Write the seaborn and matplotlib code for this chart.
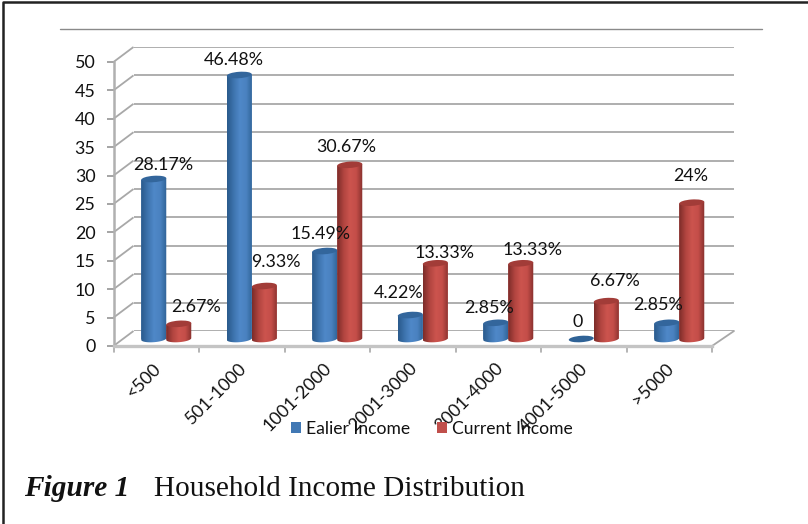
import numpy as np
import pandas as pd
import matplotlib
matplotlib.use("Agg")
import matplotlib.pyplot as plt
from matplotlib.patches import Ellipse, PathPatch
from matplotlib.path import Path
from matplotlib.transforms import IdentityTransform
from matplotlib.colors import LinearSegmentedColormap
import seaborn as sns

categories = ["<500", "501-1000", "1001-2000", "2001-3000", "3001-4000", "4001-5000", ">5000"]
earlier_income = [28.17, 46.48, 15.49, 4.22, 2.85, 0, 2.85]
current_income = [2.67, 9.33, 30.67, 13.33, 13.33, 6.67, 24]
earlier_labels = ["28.17%", "46.48%", "15.49%", "4.22%", "2.85%", "0", "2.85%"]
current_labels = ["2.67%", "9.33%", "30.67%", "13.33%", "13.33%", "6.67%", "24%"]
series_names = ["Ealier Income", "Current Income"]
y_ticks = list(range(0, 55, 5))

# label nudges in pixels from the top of each bar
earlier_offsets = [(9, 14), (-5, 15), (-4, 17), (-12, 22), (-7, 15), (-4, 17), (-9, 18)]
current_offsets = [(17, 17), (12, 24), (-4, 17.5), (9, 10), (12, 13), (9, 20), (-1, 27)]

W, H = 808, 524
sns.set_theme(style="white")
plt.rcParams["font.family"] = ["Lato", "DejaVu Sans"]
plt.rcParams["text.color"] = "#111111"
fig = plt.figure(figsize=(W / 100, H / 100), dpi=100, facecolor="white")


def px_axes(x0, y_top, x1, y_bottom, z):
    a = fig.add_axes([x0 / W, 1 - y_bottom / H, (x1 - x0) / W, (y_bottom - y_top) / H])
    a.set_zorder(z)
    a.patch.set_visible(False)
    return a


FX0, FX1, FY0, FY1 = 113.5, 712, 346, 62
GRID = "#a8a8a8"
FS = 12.9

# back wall
back = px_axes(FX0 + 20, FY1 - 15, FX1 + 22, FY0 - 15, 1)
back.set_xlim(0, 1)
back.set_ylim(0, 50)
back.set_xticks([])
back.set_yticks(y_ticks)
back.set_yticklabels([])
back.tick_params(left=False)
back.grid(axis="y", color=GRID, lw=1.3)
back.set_axisbelow(True)
sns.despine(ax=back, left=True, bottom=True)

# front axes (scale, ticks, floor edge)
front = px_axes(FX0, FY1, FX1, FY0, 2)
front.set_xlim(-0.5, 6.5)
front.set_ylim(0, 50)
front.set_yticks(y_ticks)
front.set_yticklabels([str(t) for t in y_ticks], color="#111111")
front.set_xticks(np.arange(len(categories)))
front.set_xticklabels([])
for s in ("top", "right"):
    front.spines[s].set_visible(False)
front.spines["left"].set_color("#b0b0b0")
front.spines["left"].set_linewidth(1.8)
front.spines["bottom"].set_color("#c4c4c4")
front.spines["bottom"].set_linewidth(2.4)
front.tick_params(axis="y", length=5, width=1.1, color="#8c8c8c", labelsize=FS, pad=8, left=True)
front.tick_params(axis="x", bottom=False)
ux = (FX1 - FX0) / 7
uy = (FY0 - FY1) / 50
for t in y_ticks:
    front.plot([-0.5, -0.5 + 20 / ux], [t, t + 15 / uy], color=GRID, lw=1.3, clip_on=False,
               solid_capstyle="butt")
front.plot([6.5, 6.5 + 22 / ux], [0, 15 / uy], color=GRID, lw=1.3, clip_on=False)
for k in range(8):
    front.plot([k - 0.5, k - 0.5], [0, -6 / uy], color="#a8a8a8", lw=1.2, clip_on=False)
for i, c in enumerate(categories):
    front.annotate(c, xy=(i, 0), xytext=(2, -20), textcoords="offset pixels", rotation=45,
                   rotation_mode="anchor", ha="right", va="center", fontsize=FS)

# bars
ax = px_axes(FX0 + 10, FY1 - 7, FX1 + 10, FY0 - 7, 3)
df = pd.DataFrame({
    "category": categories * 2,
    "value": earlier_income + current_income,
    "series": [series_names[0]] * 7 + [series_names[1]] * 7,
})
sns.barplot(data=df, x="category", y="value", hue="series", order=categories,
            hue_order=series_names, palette=["#4178b4", "#c04f4b"], width=0.585, gap=0,
            dodge=True, saturation=1, ax=ax, linewidth=0, zorder=3)
ax.set_xlim(-0.5, 6.5)
ax.set_ylim(0, 50)
ax.set_axis_off()

styles = [
    dict(cmap=["#2a5a8c", "#3d73ad", "#4f88c8", "#4a82c0", "#2f6296"], top="#33669c", flat="#2f6296"),
    dict(cmap=["#7c2c29", "#b0443f", "#cc544e", "#c44e49", "#86302d"], top="#a23c38", flat="#8c3431"),
]
RY, TILT = 3.2, np.tan(np.radians(4))
n = 0
for cont, vals in zip(ax.containers[:2], (earlier_income, current_income)):
    st = styles[n]
    cm = LinearSegmentedColormap.from_list(f"c{n}", st["cmap"])
    labels = (earlier_labels, current_labels)[n]
    offs = (earlier_offsets, current_offsets)[n]
    for j, (bar, v) in enumerate(zip(cont.patches, vals)):
        x, w = bar.get_x(), bar.get_width()
        (xl, yb) = ax.transData.transform((x, 0))
        (xr, yt) = ax.transData.transform((x + w, v))
        cx, rx = (xl + xr) / 2, (xr - xl) / 2
        th = np.linspace(np.pi, 2 * np.pi, 30)
        low = np.c_[cx + rx * np.cos(th), yb + RY * np.sin(th) + TILT * rx * np.cos(th)]
        up = np.c_[cx + rx * np.cos(th[::-1]), yt + TILT * rx * np.cos(th[::-1])]
        verts = np.vstack([low, up, low[:1]])
        clip = PathPatch(Path(verts, closed=True), transform=IdentityTransform())
        bar.set_clip_path(clip)
        if v > 0:
            y_pad = (RY + 2) / uy
            im = ax.imshow(np.linspace(0, 1, 64)[None, :], cmap=cm, aspect="auto",
                           extent=[x, x + w, -y_pad, v + y_pad], zorder=3 + 0.01 * j,
                           interpolation="bilinear")
            im.set_clip_box(fig.bbox)
            im.set_clip_path(clip)
        e = Ellipse((cx, yt), 2 * rx, 2 * RY, angle=4, transform=IdentityTransform(),
                    facecolor=st["top"] if v > 0 else st["flat"], edgecolor="none",
                    zorder=3.5 + 0.01 * j)
        e.set_clip_on(False)
        ax.add_artist(e)
        ax.annotate(labels[j], xy=(x + w / 2, v), xytext=offs[j], textcoords="offset pixels",
                    ha="center", va="center", fontsize=FS, zorder=6)
    n += 1
ax.set_xlim(-0.5, 6.5)
ax.set_ylim(0, 50)
sns.move_legend(ax, "center", bbox_to_anchor=(432 / W, 1 - 429 / H), bbox_transform=fig.transFigure,
                ncol=2, frameon=False, title=None, fontsize=12.6, handlelength=0.57, handleheight=0.57,
                handletextpad=0.29, columnspacing=1.54, labelcolor="#111111")

# page furniture
fig.add_artist(plt.Line2D([60 / W, 762 / W], [1 - 29 / H, 1 - 29 / H], color="#8a8a8a", lw=1))
fig.add_artist(plt.Line2D([2.5 / W, 2.5 / W, 1], [0, 1 - 1.5 / H, 1 - 1.5 / H],
                          color="#222222", lw=1.8))
fig.text(24 / W, 1 - 496 / H, "Figure 1", family=["Liberation Serif"], style="italic", weight="bold",
         fontsize=21.2, color="#111111", va="baseline")
fig.text(154 / W, 1 - 496 / H, "Household Income Distribution", family=["Liberation Serif"],
         fontsize=21.1, color="#111111", va="baseline")

fig.savefig("out.png", dpi=100, facecolor="white")
